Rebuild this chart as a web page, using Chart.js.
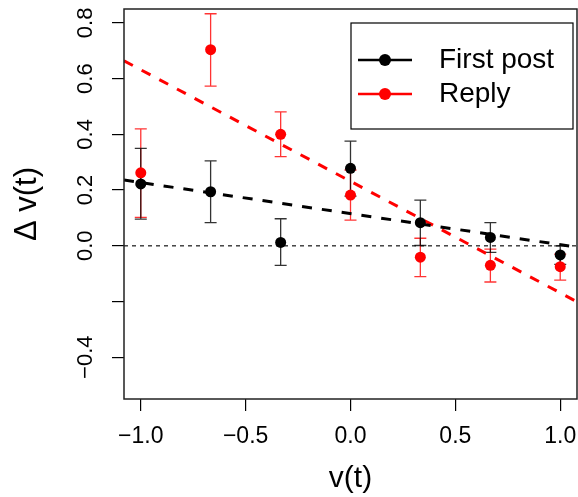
<!DOCTYPE HTML><html>
<head>
  <meta charset="utf-8">
  <script src="https://cdn.jsdelivr.net/npm/chart.js"></script>
  <style>
    html, body { margin: 0; padding: 0; background: #fff; }
    #wrap { width: 578px; height: 497px; }
  </style>
</head>
<body>
  <div id="wrap"><canvas id="vChart" width="578" height="497"></canvas></div>
<script>
  // v(t) categories
  const vValues = [-1, -0.667, -0.333, 0, 0.333, 0.667, 1];

  // First post: mean and error bar ends
  const firstPost   = [0.222, 0.194, 0.012, 0.278, 0.083, 0.030, -0.033];
  const firstPostLo = [0.096, 0.083, -0.070, 0.178, 0.001, -0.024, -0.067];
  const firstPostHi = [0.350, 0.305, 0.097, 0.376, 0.164, 0.083, 0.000];

  // Reply: mean and error bar ends
  const reply   = [0.262, 0.704, 0.400, 0.182, -0.041, -0.070, -0.075];
  const replyLo = [0.102, 0.573, 0.320, 0.092, -0.111, -0.130, -0.123];
  const replyHi = [0.420, 0.833, 0.481, 0.272, 0.027, -0.012, -0.030];

  // dashed fit lines, value at each end of the x range
  const fitX = [-1.08, 1.08];
  const firstPostFit = [0.236, -0.005];
  const replyFit = [0.664, -0.201];

  // axes
  const xTicks = [-1, -0.5, 0, 0.5, 1];
  const xTickLabels = ['\u22121.0', '\u22120.5', '0.0', '0.5', '1.0'];
  const yTicks = [-0.4, -0.2, 0, 0.2, 0.4, 0.6, 0.8];
  const yTickLabels = ['\u22120.4', '', '0.0', '0.2', '0.4', '0.6', '0.8'];

  const FONT = "'Liberation Sans', Arial, sans-serif";

  function pts(xs, ys) {
    return xs.map((x, i) => ({ x: x, y: ys[i] }));
  }

  // error bars, zero line, box, tick labels, legend
  const extras = {
    id: 'extras',
    beforeDatasetsDraw(chart) {
      const ctx = chart.ctx, a = chart.chartArea;
      const xs = chart.scales.x, ys = chart.scales.y;
      ctx.save();
      // dotted zero line
      ctx.strokeStyle = '#444';
      ctx.lineWidth = 1.5;
      ctx.setLineDash([4, 4]);
      ctx.beginPath();
      ctx.moveTo(a.left, ys.getPixelForValue(0));
      ctx.lineTo(a.right, ys.getPixelForValue(0));
      ctx.stroke();
      ctx.setLineDash([]);
      // error bars
      const bars = [[replyLo, replyHi, 'rgba(255,0,0,0.8)'], [firstPostLo, firstPostHi, 'rgba(0,0,0,0.8)']];
      bars.forEach(b => {
        ctx.strokeStyle = b[2];
        ctx.lineWidth = 1.3;
        vValues.forEach((v, i) => {
          const px = xs.getPixelForValue(v);
          const lo = ys.getPixelForValue(b[0][i]);
          const hi = ys.getPixelForValue(b[1][i]);
          ctx.beginPath();
          ctx.moveTo(px, lo); ctx.lineTo(px, hi);
          ctx.moveTo(px - 6, lo); ctx.lineTo(px + 6, lo);
          ctx.moveTo(px - 6, hi); ctx.lineTo(px + 6, hi);
          ctx.stroke();
        });
      });
      ctx.restore();
    },
    afterDraw(chart) {
      const ctx = chart.ctx, a = chart.chartArea;
      const xs = chart.scales.x, ys = chart.scales.y;
      ctx.save();
      // box
      ctx.strokeStyle = '#222';
      ctx.lineWidth = 1.5;
      ctx.strokeRect(a.left, a.top, a.right - a.left, a.bottom - a.top);
      ctx.fillStyle = '#000';
      ctx.textAlign = 'center';
      ctx.textBaseline = 'middle';
      // x tick labels
      ctx.font = '23px ' + FONT;
      xTicks.forEach((t, i) => {
        ctx.fillText(xTickLabels[i], xs.getPixelForValue(t), a.bottom + 38);
      });
      // y tick labels, rotated
      ctx.font = '22px ' + FONT;
      yTicks.forEach((t, i) => {
        if (!yTickLabels[i]) return;
        ctx.save();
        ctx.translate(86, ys.getPixelForValue(t));
        ctx.rotate(-Math.PI / 2);
        ctx.fillText(yTickLabels[i], 0, 0);
        ctx.restore();
      });
      // legend
      const L = { x: 351, y: 23, w: 222, h: 106 };
      ctx.fillStyle = '#fff';
      ctx.fillRect(L.x, L.y, L.w, L.h);
      ctx.strokeStyle = '#000';
      ctx.lineWidth = 1.2;
      ctx.strokeRect(L.x, L.y, L.w, L.h);
      const items = [['First post', '#000', 60], ['Reply', '#ff0000', 94]];
      ctx.font = '28px ' + FONT;
      ctx.textAlign = 'left';
      items.forEach(it => {
        ctx.strokeStyle = it[1];
        ctx.lineWidth = 2.5;
        ctx.beginPath();
        ctx.moveTo(358, it[2]); ctx.lineTo(412, it[2]);
        ctx.stroke();
        ctx.fillStyle = it[1];
        ctx.beginPath();
        ctx.arc(385, it[2], 6, 0, Math.PI * 2);
        ctx.fill();
        ctx.fillStyle = '#000';
        ctx.fillText(it[0], 439, it[2]);
      });
      ctx.restore();
    }
  };

  const ctx = document.getElementById('vChart').getContext('2d');
  const vChart = new Chart(ctx, {
    type: 'scatter',
    data: {
      datasets: [{
        label: 'First post',
        data: pts(vValues, firstPost),
        backgroundColor: '#000',
        borderColor: '#000',
        pointRadius: 5.5,
        pointBorderWidth: 0,
        showLine: false
      }, {
        label: 'Reply',
        data: pts(vValues, reply),
        backgroundColor: '#ff0000',
        borderColor: '#ff0000',
        pointRadius: 5.5,
        pointBorderWidth: 0,
        showLine: false
      }, {
        label: 'First post fit',
        data: pts(fitX, firstPostFit),
        borderColor: '#000',
        borderWidth: 3,
        borderDash: [10, 10],
        pointRadius: 0,
        showLine: true
      }, {
        label: 'Reply fit',
        data: pts(fitX, replyFit),
        borderColor: '#ff0000',
        borderWidth: 3,
        borderDash: [10, 10],
        pointRadius: 0,
        showLine: true
      }]
    },
    options: {
      responsive: false,
      animation: false,
      layout: { autoPadding: false, padding: { top: 9, right: 1 } },
      plugins: { legend: { display: false }, tooltip: { enabled: false } },
      scales: {
        x: {
          type: 'linear',
          min: -1.08,
          max: 1.08,
          afterBuildTicks: s => { s.ticks = xTicks.map(v => ({ value: v })); },
          afterFit: s => { s.height = 98; },
          ticks: { display: false },
          grid: { drawOnChartArea: false, drawTicks: true, tickLength: 12, color: '#000', lineWidth: 1.2 },
          border: { display: false },
          title: { display: true, text: 'v(t)', font: { size: 30, family: FONT }, color: '#000', padding: { top: 0, bottom: 0 } }
        },
        y: {
          type: 'linear',
          min: -0.55,
          max: 0.85,
          afterBuildTicks: s => { s.ticks = yTicks.map(v => ({ value: v })); },
          afterFit: s => { s.width = 124; },
          ticks: { display: false },
          grid: { drawOnChartArea: false, drawTicks: true, tickLength: 12, color: '#000', lineWidth: 1.2 },
          border: { display: false },
          title: { display: true, text: '\u0394 v(t)', font: { size: 31, family: FONT }, color: '#000', padding: { top: 9, bottom: 0 } }
        }
      }
    },
    plugins: [extras]
  });
</script>
</body>
</html>
